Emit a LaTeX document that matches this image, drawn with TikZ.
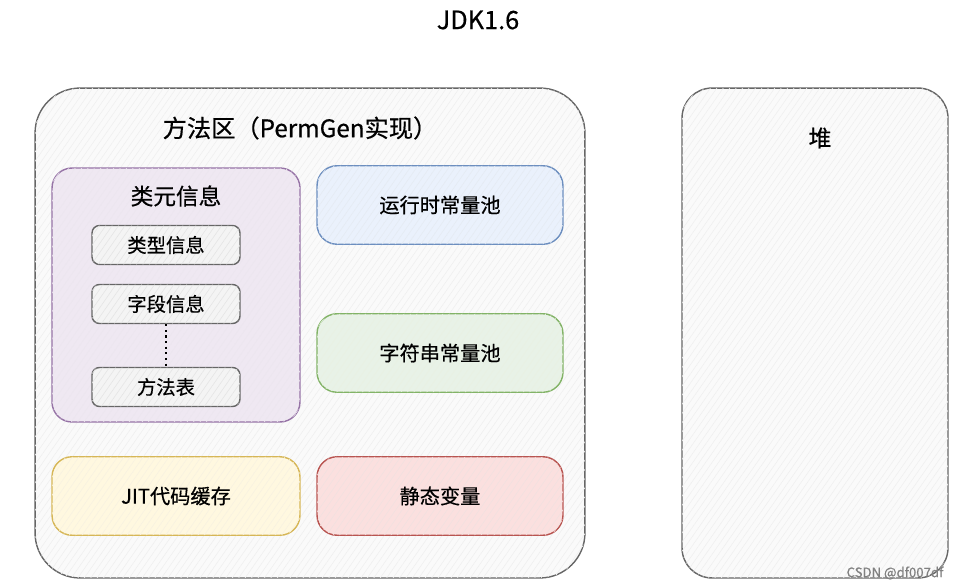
\documentclass[tikz,border=0pt]{standalone}
\usepackage{fontspec}
\setmainfont{Noto Sans CJK SC}[FakeBold=0.5]
\usetikzlibrary{patterns.meta}
\definecolor{purpleline}{HTML}{9673A6}
\definecolor{purplefill}{HTML}{EFE8F2}
\definecolor{blueline}{HTML}{6C8EBF}
\definecolor{bluefill}{HTML}{EAF1FC}
\definecolor{greenline}{HTML}{82B366}
\definecolor{greenfill}{HTML}{E8F2E7}
\definecolor{yellowline}{HTML}{D6B656}
\definecolor{yellowfill}{HTML}{FFF8E0}
\definecolor{redline}{HTML}{B85450}
\definecolor{redfill}{HTML}{FBE0DF}
\definecolor{greyline}{HTML}{666666}
\definecolor{greyfill}{HTML}{F4F4F4}
\tikzset{
  hatch/.style={postaction={pattern={Lines[angle=55,distance=3pt,line width=0.35pt]}, pattern color=#1}},
  area/.style={draw=greyline, fill=greyfill!50, thick, rounded corners=#1, hatch=black!6},
  partbox/.style={draw=#1line, fill=#1fill, thick, rounded corners=0.4cm, hatch=#1line!18,
    minimum width=4.92cm, minimum height=1.57cm, font=\fontsize{11.5}{13}\selectfont},
  itembox/.style={draw=greyline, fill=greyfill, thick, rounded corners=0.15cm, hatch=black!10,
    minimum width=2.96cm, minimum height=0.78cm, font=\fontsize{11}{13}\selectfont},
}
\begin{document}
\begin{tikzpicture}[x=0.02cm, y=-0.02cm]
        % \draw[help lines, gray!50, very thin] (0,0) grid[step=50] (957,588);
        \useasboundingbox (0,0) rectangle (957,588);

        \node[font=\fontsize{14.4}{16}\selectfont] (jdk) at (478,20) {JDK1.6};

        \node[area=0.9cm, minimum width=11cm, minimum height=9.8cm] (method) at (310,333) {};
        \node[font=\fontsize{13.8}{16}\selectfont] (methodtitle) at (300,128) {方法区（PermGen实现）};

        \node[area=0.6cm, minimum width=5.32cm, minimum height=9.8cm] (heap) at (815,333) {};
        \node[font=\fontsize{13}{15}\selectfont] (heaptitle) at (820,138) {堆};

        \node[partbox=purple, minimum width=4.96cm, minimum height=5.08cm] (meta) at (176,295) {};
        \node[font=\fontsize{12.9}{15}\selectfont] (metatitle) at (176,196) {类元信息};
        \node[itembox] (typeinfo) at (166,245) {类型信息};
        \node[itembox] (fieldinfo) at (166,304) {字段信息};
        \node[itembox] (methodtable) at (166,387) {方法表};
        \draw[dotted, very thick] (fieldinfo) -- (methodtable);

        \node[partbox=blue] (runtimepool) at (440,205) {运行时常量池};
        \node[partbox=green] (stringpool) at (440,353) {字符串常量池};
        \node[partbox=yellow, minimum width=4.96cm] (jitcache) at (176,496) {JIT代码缓存};
        \node[partbox=red] (staticvar) at (440,496) {静态变量};

        \node[text=gray, font=\fontsize{7.5}{9}\selectfont] (mark) at (895,573) {CSDN @df007df};
      \end{tikzpicture}
\end{document}
